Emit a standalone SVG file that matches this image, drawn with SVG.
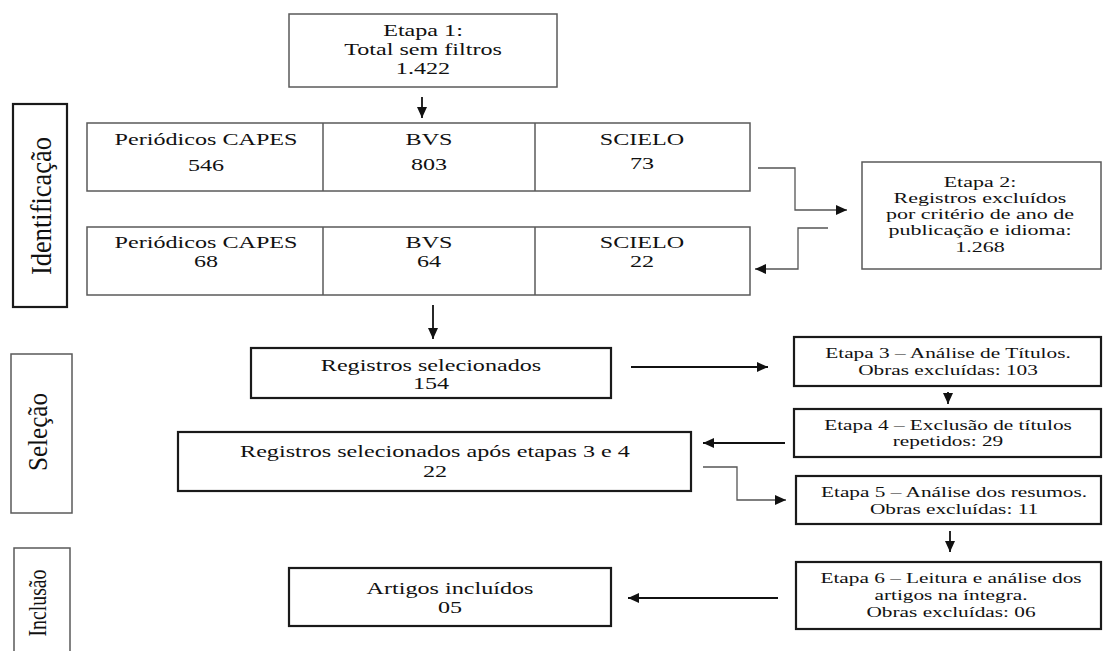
<svg xmlns="http://www.w3.org/2000/svg" width="1103" height="651" viewBox="0 0 1103 651" font-family="Liberation Serif, Times New Roman, serif">
<style>
  text { fill: #111; text-anchor: middle; }
  .f17 { font-size: 17px; }
  .f15 { font-size: 15px; }
  .f155 { font-size: 15.5px; }
  .thin { fill: #fff; stroke: #5a5a5a; stroke-width: 1.5; }
  .thick { fill: #fff; stroke: #1a1a1a; stroke-width: 2.2; }
  .arr { fill: none; stroke: #111; stroke-width: 1.8; marker-end: url(#ah); }
  .elb { fill: none; stroke: #555; stroke-width: 1.3; marker-end: url(#ah); }
</style>
<defs>
  <marker id="ah" markerUnits="userSpaceOnUse" markerWidth="12" markerHeight="10" refX="11" refY="5" orient="auto">
    <path d="M0,0 L11,5 L0,10 Z" fill="#111"/>
  </marker>
</defs>
<rect width="1103" height="651" fill="#fff"/>

<g id="label-identificacao">
  <rect class="thick" x="13" y="104" width="54" height="203"/>
  <text font-family="Liberation Serif, serif" style="font-size:20px" transform="translate(51,206) scale(1.45,1) rotate(-90)" textLength="138" lengthAdjust="spacingAndGlyphs">Identificação</text>
</g>
<g id="label-selecao">
  <rect class="thin" x="11" y="354" width="61" height="159"/>
  <text font-family="Liberation Serif, serif" style="font-size:19px" transform="translate(47,432) scale(1.42,1) rotate(-90)" textLength="78" lengthAdjust="spacingAndGlyphs">Seleção</text>
</g>
<g id="label-inclusao">
  <rect class="thin" x="14" y="548" width="56" height="110"/>
  <text font-family="Liberation Serif, serif" style="font-size:18px" transform="translate(46,603) scale(1.42,1) rotate(-90)" textLength="67" lengthAdjust="spacingAndGlyphs">Inclusão</text>
</g>

<g id="etapa1">
  <rect class="thin" x="289" y="14" width="268" height="73"/>
  <text class="f17" font-family="Liberation Serif, serif" transform="translate(423,0) scale(1.42,1)"><tspan x="0" y="36">Etapa 1:</tspan><tspan x="0" y="55">Total sem filtros</tspan><tspan x="0" y="74">1.422</tspan></text>
</g>

<g id="row1">
  <rect class="thin" x="87" y="123" width="663" height="68"/>
  <line x1="323" y1="123" x2="323" y2="191" stroke="#5a5a5a" stroke-width="1.5"/>
  <line x1="535" y1="123" x2="535" y2="191" stroke="#5a5a5a" stroke-width="1.5"/>
</g>
<g id="row1-capes">
  <text class="f17" font-family="Liberation Serif, serif" transform="translate(206,0) scale(1.42,1)"><tspan x="0" y="145">Periódicos CAPES</tspan><tspan x="0" y="171">546</tspan></text>
</g>
<g id="row1-bvs">
  <text class="f17" font-family="Liberation Serif, serif" transform="translate(429,0) scale(1.42,1)"><tspan x="0" y="145">BVS</tspan><tspan x="0" y="170">803</tspan></text>
</g>
<g id="row1-scielo">
  <text class="f17" font-family="Liberation Serif, serif" transform="translate(642,0) scale(1.42,1)"><tspan x="0" y="145">SCIELO</tspan><tspan x="0" y="169">73</tspan></text>
</g>

<g id="row2">
  <rect class="thin" x="87" y="227" width="663" height="68"/>
  <line x1="323" y1="227" x2="323" y2="295" stroke="#5a5a5a" stroke-width="1.5"/>
  <line x1="535" y1="227" x2="535" y2="295" stroke="#5a5a5a" stroke-width="1.5"/>
</g>
<g id="row2-capes">
  <text class="f17" font-family="Liberation Serif, serif" transform="translate(206,0) scale(1.42,1)"><tspan x="0" y="248">Periódicos CAPES</tspan><tspan x="0" y="267">68</tspan></text>
</g>
<g id="row2-bvs">
  <text class="f17" font-family="Liberation Serif, serif" transform="translate(429,0) scale(1.42,1)"><tspan x="0" y="248">BVS</tspan><tspan x="0" y="267">64</tspan></text>
</g>
<g id="row2-scielo">
  <text class="f17" font-family="Liberation Serif, serif" transform="translate(642,0) scale(1.42,1)"><tspan x="0" y="248">SCIELO</tspan><tspan x="0" y="267">22</tspan></text>
</g>

<g id="etapa2">
  <rect class="thin" x="862" y="162" width="239" height="107"/>
  <text class="f155" font-family="Liberation Serif, serif" transform="translate(980,0) scale(1.42,1)"><tspan x="0" y="187">Etapa 2:</tspan><tspan x="0" y="203">Registros excluídos</tspan><tspan x="0" y="219">por critério de ano de</tspan><tspan x="0" y="235">publicação e idioma:</tspan><tspan x="0" y="252">1.268</tspan></text>
</g>

<g id="registros-selecionados">
  <rect class="thick" x="251" y="348" width="360" height="50"/>
  <text class="f17" font-family="Liberation Serif, serif" transform="translate(431,0) scale(1.42,1)"><tspan x="0" y="371">Registros selecionados</tspan><tspan x="0" y="389">154</tspan></text>
</g>

<g id="registros-apos">
  <rect class="thick" x="178" y="432" width="513" height="59"/>
  <text class="f17" font-family="Liberation Serif, serif" transform="translate(435,0) scale(1.42,1)"><tspan x="0" y="457">Registros selecionados após etapas 3 e 4</tspan><tspan x="0" y="477">22</tspan></text>
</g>

<g id="artigos">
  <rect class="thick" x="289" y="568" width="322" height="58"/>
  <text class="f17" font-family="Liberation Serif, serif" transform="translate(450,0) scale(1.42,1)"><tspan x="0" y="594">Artigos incluídos</tspan><tspan x="0" y="613">05</tspan></text>
</g>

<g id="etapa3">
  <rect class="thick" x="794" y="337" width="307" height="49"/>
  <text class="f15" font-family="Liberation Serif, serif" transform="translate(948,0) scale(1.42,1)"><tspan x="0" y="358">Etapa 3 – Análise de Títulos.</tspan><tspan x="0" y="375">Obras excluídas: 103</tspan></text>
</g>
<g id="etapa4">
  <rect class="thick" x="794" y="409" width="307" height="48"/>
  <text class="f15" font-family="Liberation Serif, serif" transform="translate(948,0) scale(1.42,1)"><tspan x="0" y="430">Etapa 4 – Exclusão de títulos</tspan><tspan x="0" y="446">repetidos: 29</tspan></text>
</g>
<g id="etapa5">
  <rect class="thick" x="796" y="476" width="305" height="48"/>
  <text class="f15" font-family="Liberation Serif, serif" transform="translate(954,0) scale(1.42,1)"><tspan x="0" y="497">Etapa 5 – Análise dos resumos.</tspan><tspan x="0" y="514">Obras excluídas: 11</tspan></text>
</g>
<g id="etapa6">
  <rect class="thick" x="796" y="562" width="305" height="67"/>
  <text class="f15" font-family="Liberation Serif, serif" transform="translate(951,0) scale(1.42,1)"><tspan x="0" y="583">Etapa 6 – Leitura e análise dos</tspan><tspan x="0" y="600">artigos na íntegra.</tspan><tspan x="0" y="617">Obras excluídas: 06</tspan></text>
</g>

<g id="connectors">
  <path class="arr" d="M422,97 L422,118"/>
  <path class="elb" d="M758,168 L795,168 L795,210 L847,210"/>
  <path class="elb" d="M828,228 L798,228 L798,269 L755,269"/>
  <path class="arr" d="M433,305 L433,339"/>
  <path class="arr" d="M631,367 L768,367"/>
  <path class="arr" d="M948,392 L948,404"/>
  <path class="arr" d="M785,443 L703,443"/>
  <path class="elb" d="M703,467 L737,467 L737,500 L786,500"/>
  <path class="arr" d="M950,531 L950,552"/>
  <path class="arr" d="M778,598 L628,598"/>
</g>
</svg>
